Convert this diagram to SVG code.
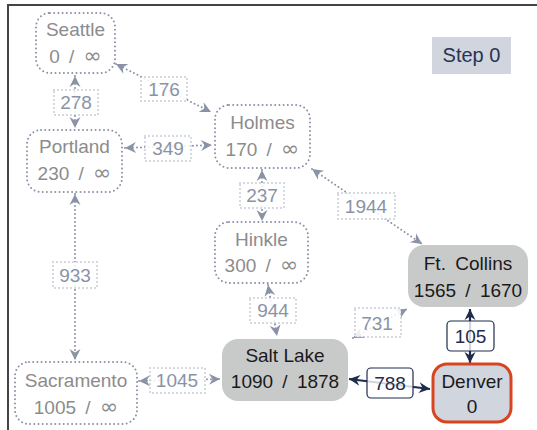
<svg xmlns="http://www.w3.org/2000/svg" width="537" height="430" viewBox="0 0 537 430">
  <defs>
    <marker id="ag" viewBox="-12 -7 14 14" markerWidth="14" markerHeight="14" refX="0" refY="0" orient="auto-start-reverse" markerUnits="userSpaceOnUse">
      <path d="M0,0 L-11,-5.5 L-7.5,0 L-11,5.5 z" fill="#8a93a6"/>
    </marker>
    <marker id="an" viewBox="-12 -7 14 14" markerWidth="14" markerHeight="14" refX="0" refY="0" orient="auto-start-reverse" markerUnits="userSpaceOnUse">
      <path d="M0,0 L-11,-5.5 L-7.5,0 L-11,5.5 z" fill="#1f2c4d"/>
    </marker>
  </defs>
  <style>
    text { font-family: "Liberation Sans", "DejaVu Sans", sans-serif; font-size: 19px; text-anchor: middle; }
    .dist { word-spacing: 4px; }
    .inf { font-family: "DejaVu Sans", sans-serif; font-size: 22px; }
    .frame { stroke: #444; stroke-width: 2; fill: none; }
    .idle rect { fill: #fff; stroke: #8a92a6; stroke-width: 2; stroke-dasharray: 0 4.2; stroke-linecap: round; }
    .idle text { fill: #8c8c8c; }
    .seen rect { fill: #c8c9c9; stroke: none; }
    .seen text { fill: #1a1a1a; }
    .cur rect { fill: #d0d5de; stroke: #d6451f; stroke-width: 3; }
    .cur text { fill: #1a1a1a; }
    .dot { stroke: #8a93a6; stroke-width: 2; stroke-dasharray: 0 4; stroke-linecap: round; fill: none; marker-start: url(#ag); marker-end: url(#ag); }
    .solid { stroke: #1f2c4d; stroke-width: 2.2; fill: none; marker-start: url(#an); marker-end: url(#an); }
    .lblg rect { fill: #fff; fill-opacity: 0.85; stroke: #9aa1b2; stroke-width: 1.5; stroke-dasharray: 0 4; stroke-linecap: round; }
    .lblg text { fill: #8a93a6; }
    .lbln rect { fill: #fff; fill-opacity: 0.8; stroke: #1f2c4d; stroke-width: 1.2; }
    .lbln text { fill: #1f2c4d; }
  </style>

  <!-- frame -->
  <path class="frame" d="M8,430 V5 H537"/>

  <!-- step badge -->
  <g id="step">
    <rect x="432" y="37" width="79" height="37" fill="#d0d5de"/>
    <text x="471.5" y="62" fill="#2a3352" style="font-size:20px">Step 0</text>
  </g>

  <!-- connectors -->
  <g id="edges">
    <line class="dot" x1="75" y1="76" x2="75" y2="128"/>
    <line class="dot" x1="116" y1="64" x2="211" y2="112"/>
    <line class="dot" x1="125" y1="148" x2="212" y2="145"/>
    <line class="dot" x1="262" y1="170" x2="262" y2="221"/>
    <line class="dot" x1="268" y1="285" x2="277" y2="336"/>
    <line class="dot" x1="75" y1="194" x2="75" y2="360"/>
    <line class="dot" x1="139" y1="381" x2="220" y2="379"/>
    <line class="dot" x1="312" y1="169" x2="422" y2="244"/>
    <line class="dot" x1="353" y1="338" x2="407" y2="309"/>
    <line class="solid" x1="470" y1="309" x2="470" y2="363"/>
    <line class="solid" x1="349" y1="379" x2="430" y2="389"/>

    <g class="lblg"><rect x="54" y="90" width="44" height="25"/><text x="76" y="109">278</text></g>
    <g class="lblg"><rect x="141" y="77" width="46" height="24"/><text x="164" y="96">176</text></g>
    <g class="lblg"><rect x="145" y="136" width="46" height="25"/><text x="168" y="155">349</text></g>
    <g class="lblg"><rect x="240" y="183" width="44" height="25"/><text x="262" y="202">237</text></g>
    <g class="lblg"><rect x="250" y="298" width="46" height="25"/><text x="273" y="317">944</text></g>
    <g class="lblg"><rect x="53" y="262" width="44" height="26"/><text x="75" y="282">933</text></g>
    <g class="lblg"><rect x="150" y="368" width="55" height="25"/><text x="177" y="387">1045</text></g>
    <g class="lblg"><rect x="338" y="193" width="57" height="26"/><text x="366" y="213">1944</text></g>
    <g class="lblg"><rect x="355" y="308" width="46" height="29"/><text x="377" y="330">731</text></g>
    <g class="lbln"><rect x="447" y="321" width="47" height="30" rx="4"/><text x="470.5" y="343">105</text></g>
    <g class="lbln"><rect x="367" y="368" width="46" height="30" rx="4"/><text x="390" y="390">788</text></g>
  </g>

  <!-- nodes -->
  <g id="seattle" class="idle">
    <rect x="36" y="13" width="79" height="60" rx="14"/>
    <text x="75.5" y="36">Seattle</text>
    <text x="75.5" y="63" class="dist">0 / <tspan class="inf">∞</tspan></text>
  </g>
  <g id="portland" class="idle">
    <rect x="27" y="130" width="95" height="62" rx="14"/>
    <text x="74.5" y="153">Portland</text>
    <text x="74.5" y="180" class="dist">230 / <tspan class="inf">∞</tspan></text>
  </g>
  <g id="holmes" class="idle">
    <rect x="215" y="105" width="95" height="63" rx="14"/>
    <text x="262.5" y="129">Holmes</text>
    <text x="262.5" y="156" class="dist">170 / <tspan class="inf">∞</tspan></text>
  </g>
  <g id="hinkle" class="idle">
    <rect x="215" y="222" width="93" height="61" rx="14"/>
    <text x="261.5" y="246">Hinkle</text>
    <text x="261.5" y="272" class="dist">300 / <tspan class="inf">∞</tspan></text>
  </g>
  <g id="sacramento" class="idle">
    <rect x="15" y="362" width="122" height="62" rx="14"/>
    <text x="76" y="387">Sacramento</text>
    <text x="76" y="414" class="dist">1005 / <tspan class="inf">∞</tspan></text>
  </g>
  <g id="saltlake" class="seen">
    <rect x="222" y="339" width="126" height="62" rx="16"/>
    <text x="285" y="362">Salt Lake</text>
    <text x="285" y="388" class="dist">1090 / 1878</text>
  </g>
  <g id="ftcollins" class="seen">
    <rect x="408" y="245" width="120" height="62" rx="16"/>
    <text x="468" y="270" class="dist">Ft. Collins</text>
    <text x="468" y="297" class="dist">1565 / 1670</text>
  </g>
  <g id="denver" class="cur">
    <rect x="433" y="364" width="78" height="58" rx="14"/>
    <text x="472" y="388">Denver</text>
    <text x="472" y="413">0</text>
  </g>
</svg>
